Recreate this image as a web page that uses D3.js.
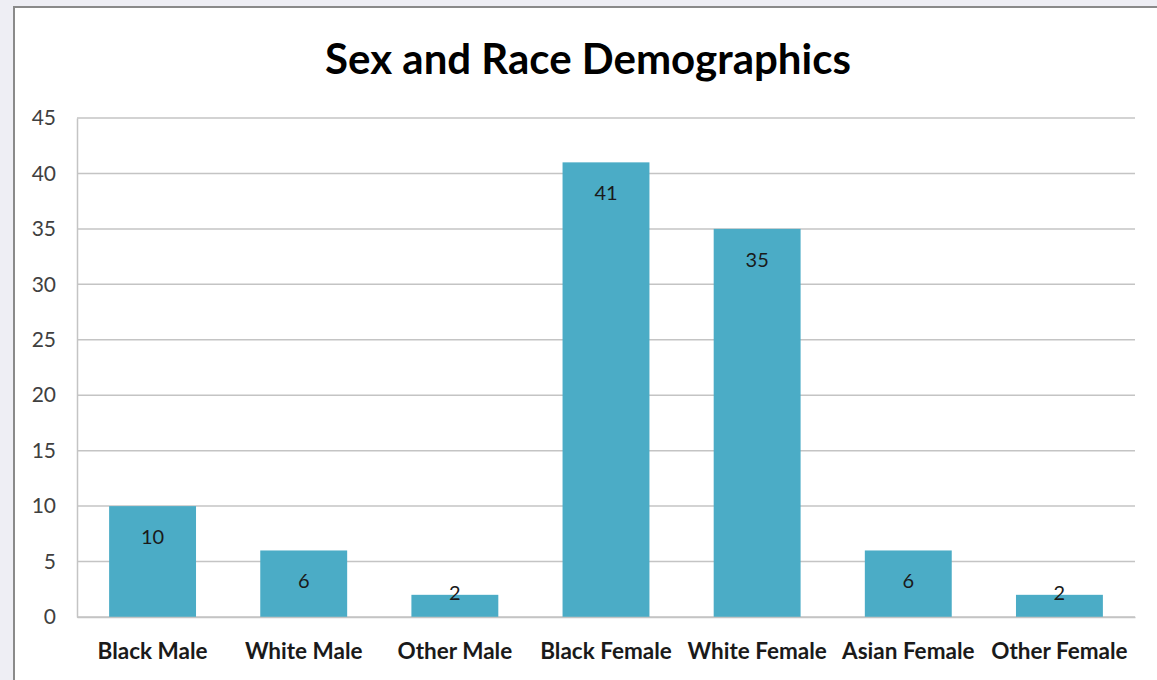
<!DOCTYPE html>
<html>
<head>
<meta charset="utf-8">
<script src="https://cdn.jsdelivr.net/npm/d3@7"></script>
<style>
  body { margin: 0; background: #eeeef4; }
  svg { display: block; }
</style>
</head>
<body>
<svg id="chart"></svg>
<script>
// data
var categories = ["Black Male", "White Male", "Other Male", "Black Female", "White Female", "Asian Female", "Other Female"];
var counts = [10, 6, 2, 41, 35, 6, 2];
var yTicks = [0, 5, 10, 15, 20, 25, 30, 35, 40, 45];
var title = "Sex and Race Demographics";

var svgWidth = 1157, svgHeight = 680;
var plotLeft = 77, plotRight = 1135, plotTop = 118, plotBottom = 617;
var barColor = "#4bacc6";
var font = "Lato, 'Open Sans', sans-serif";

var svg = d3.select("#chart")
    .attr("width", svgWidth)
    .attr("height", svgHeight);

// chart box
svg.append("rect")
    .attr("x", 14)
    .attr("y", 7)
    .attr("width", 1180)
    .attr("height", 700)
    .attr("fill", "#fff")
    .attr("stroke", "#8a8a8a")
    .attr("stroke-width", 2);

var xScale = d3.scaleBand()
    .domain(categories)
    .range([plotLeft, plotRight])
    .paddingInner(0.425)
    .paddingOuter(0.2125);

var yScale = d3.scaleLinear()
    .domain([0, 45])
    .range([plotBottom, plotTop]);

// gridlines
svg.append("g")
    .selectAll("line")
    .data(yTicks)
    .enter()
    .append("line")
    .attr("x1", plotLeft)
    .attr("x2", plotRight)
    .attr("y1", function(d) { return yScale(d); })
    .attr("y2", function(d) { return yScale(d); })
    .attr("stroke", "#c4c4c4")
    .attr("stroke-width", 1.5);

// y axis
var y_axis = d3.axisLeft(yScale)
    .tickValues(yTicks)
    .tickSize(0)
    .tickPadding(21);

var yG = svg.append("g")
    .attr("transform", "translate(" + plotLeft + ",0)")
    .call(y_axis);
yG.select(".domain").attr("stroke", "#c4c4c4").attr("stroke-width", 1.5);
yG.selectAll("text")
    .attr("font-family", font)
    .attr("font-size", 21)
    .attr("fill", "#404040");

// bars
svg.append("g")
    .selectAll("rect")
    .data(counts)
    .enter()
    .append("rect")
    .attr("x", function(d, i) { return xScale(categories[i]); })
    .attr("y", function(d) { return yScale(d); })
    .attr("width", xScale.bandwidth())
    .attr("height", function(d) { return plotBottom - yScale(d); })
    .attr("fill", barColor);

// x axis
var x_axis = d3.axisBottom(xScale)
    .tickSize(0)
    .tickPadding(26);

var xG = svg.append("g")
    .attr("transform", "translate(0," + plotBottom + ")")
    .call(x_axis);
xG.select(".domain").attr("stroke", "#c4c4c4").attr("stroke-width", 1.5);
xG.selectAll("text")
    .attr("font-family", font)
    .attr("font-size", 22.5)
    .attr("font-weight", "bold")
    .attr("fill", "#1a1a1a");

// value labels, inside end
svg.append("g")
    .selectAll("text")
    .data(counts)
    .enter()
    .append("text")
    .attr("x", function(d, i) { return xScale(categories[i]) + xScale.bandwidth() / 2; })
    .attr("y", function(d) {
        var top = yScale(d);
        return (plotBottom - top) >= 40 ? top + 38 : top + 5;
    })
    .attr("text-anchor", "middle")
    .attr("font-family", font)
    .attr("font-size", 20)
    .attr("fill", "#1a1a1a")
    .text(function(d) { return d; });

// title
svg.append("text")
    .attr("x", 588)
    .attr("y", 74)
    .attr("text-anchor", "middle")
    .attr("font-family", font)
    .attr("font-size", 42)
    .attr("font-weight", "bold")
    .attr("fill", "#000")
    .text(title);
</script>
</body>
</html>
